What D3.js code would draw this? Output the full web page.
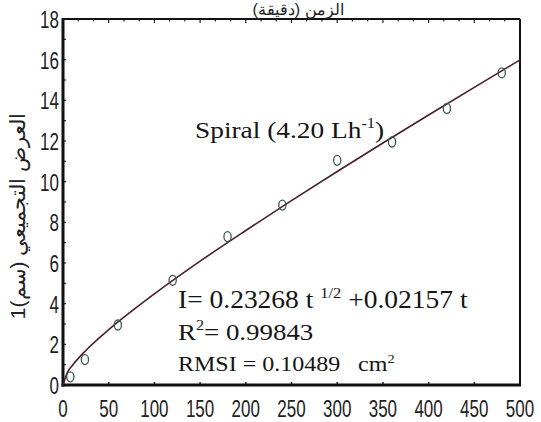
<!DOCTYPE html>
<html><head><meta charset="utf-8">
<script src="https://cdn.jsdelivr.net/npm/d3@7"></script>
<style>body{margin:0;background:#fff}svg{display:block}</style>
</head><body>
<svg id="c" width="541" height="422"></svg>
<script>
// observed points
const timeMin = [8, 24, 60, 120, 180, 240, 300, 360, 420, 480];
const infil = [0.4, 1.25, 2.95, 5.15, 7.3, 8.85, 11.05, 11.95, 13.6, 15.35];
// fitted curve
const fitT = [0, 5, 10, 25, 50, 100, 150, 200, 250, 300, 350, 400, 450, 500];
const fitI = [0, 0.63, 0.95, 1.7, 2.72, 4.48, 6.09, 7.6, 9.07, 10.5, 11.9, 13.28, 14.64, 15.99];
const xTicks = [0, 50, 100, 150, 200, 250, 300, 350, 400, 450, 500];
const yTicks = [0, 2, 4, 6, 8, 10, 12, 14, 16, 18];
const xTitle = "الزمن (دقيقة)";
const yTitle = "العرض التجميعي (سم)1";

const svg = d3.select("#c");
const x = d3.scaleLinear().domain([0, 500]).range([63, 520]);
const y = d3.scaleLinear().domain([0, 18]).range([385, 19]);
const sans = "'Liberation Sans', Arial, sans-serif";
const serif = "'Liberation Serif', 'Times New Roman', serif";

// minor ticks
const g = svg.append("g");
g.selectAll(".lt").data(d3.range(0, 18.01, 1)).join("line")
  .attr("x1", x(0)).attr("x2", x(0) + 3).attr("y1", d => y(d)).attr("y2", d => y(d))
  .attr("stroke", "#222").attr("stroke-width", 1.2);
g.selectAll(".bt").data(xTicks).join("line")
  .attr("x1", d => x(d)).attr("x2", d => x(d)).attr("y1", y(0)).attr("y2", y(0) - 3)
  .attr("stroke", "#222").attr("stroke-width", 1.5);
g.selectAll(".tt").data(d3.range(0, 500.1, 50 / 3)).join("line")
  .attr("x1", d => x(d)).attr("x2", d => x(d)).attr("y1", y(18)).attr("y2", d => y(18) + (Math.round(d) % 50 === 0 ? 4 : 2.5))
  .attr("stroke", "#222").attr("stroke-width", 1.2);

// frame
svg.append("line").attr("x1", x(0)).attr("x2", x(500)).attr("y1", y(18)).attr("y2", y(18)).attr("stroke", "#111").attr("stroke-width", 2);
svg.append("line").attr("x1", x(500)).attr("x2", x(500)).attr("y1", y(18)).attr("y2", y(0)).attr("stroke", "#111").attr("stroke-width", 2);
svg.append("line").attr("x1", x(0)).attr("x2", x(0)).attr("y1", y(18) - 1).attr("y2", y(0) + 1.5).attr("stroke", "#111").attr("stroke-width", 3);
svg.append("line").attr("x1", x(0) - 1.5).attr("x2", x(500) + 1).attr("y1", y(0)).attr("y2", y(0)).attr("stroke", "#111").attr("stroke-width", 3);

// tick labels (tall, narrow)
svg.selectAll(".xl").data(xTicks).join("g")
  .attr("transform", d => `translate(${x(d)},417) scale(1,1.45)`)
  .append("text").attr("text-anchor", "middle").attr("font-family", sans).attr("font-size", 17).attr("fill", "#222")
  .text(d => d);
svg.selectAll(".yl").data(yTicks).join("g")
  .attr("transform", d => `translate(59,${y(d)}) scale(1,1.45)`)
  .append("text").attr("text-anchor", "end").attr("dy", "0.36em").attr("font-family", sans).attr("font-size", 17).attr("fill", "#222")
  .text(d => d);

// titles
svg.append("text").attr("x", 298).attr("y", 15).attr("text-anchor", "middle")
  .attr("font-family", sans).attr("font-size", 16).attr("fill", "#222").text(xTitle);
svg.append("text").attr("transform", "translate(25,216) rotate(-90)").attr("text-anchor", "middle")
  .attr("font-family", sans).attr("font-size", 21).attr("fill", "#222").text(yTitle);

// fitted curve
const line = d3.line().x((d, i) => x(fitT[i])).y((d, i) => y(fitI[i])).curve(d3.curveMonotoneX);
svg.append("path").datum(fitI).attr("d", line).attr("fill", "none").attr("stroke", "#4a1f26").attr("stroke-width", 1.6);

// points
svg.selectAll(".pt").data(infil).join("ellipse")
  .attr("cx", (d, i) => x(timeMin[i])).attr("cy", d => y(d)).attr("rx", 3.6).attr("ry", 5)
  .attr("fill", "none").attr("stroke", "#3a5552").attr("stroke-width", 1.3);

// annotations
function ann(xp, yp, size, sx, parts) {
  const t = svg.append("g").attr("transform", `translate(${xp},${yp}) scale(${sx},1)`)
    .append("text").attr("x", 0).attr("y", 0).attr("font-family", serif)
    .attr("font-size", size).attr("fill", "#151515").attr("xml:space", "preserve").style("white-space", "pre");
  parts.forEach(p => {
    const s = t.append("tspan").text(p.t);
    if (p.sup) s.attr("font-size", size * 0.6).attr("dy", -size * 0.42);
    if (p.down) s.attr("dy", size * 0.42);
  });
}
ann(195, 138, 23, 1.19, [{t: "Spiral (4.20 Lh"}, {t: "-1", sup: true}, {t: ")", down: true}]);
ann(178, 308, 25, 1.1, [{t: "I= 0.23268 t "}, {t: "1/2", sup: true}, {t: " +0.02157 t", down: true}]);
ann(178, 340, 23, 1.17, [{t: "R"}, {t: "2", sup: true}, {t: "= 0.99843", down: true}]);
ann(178, 371, 20, 1.2, [{t: "RMSI = 0.10489   cm"}, {t: "2", sup: true}]);
</script>
</body></html>
